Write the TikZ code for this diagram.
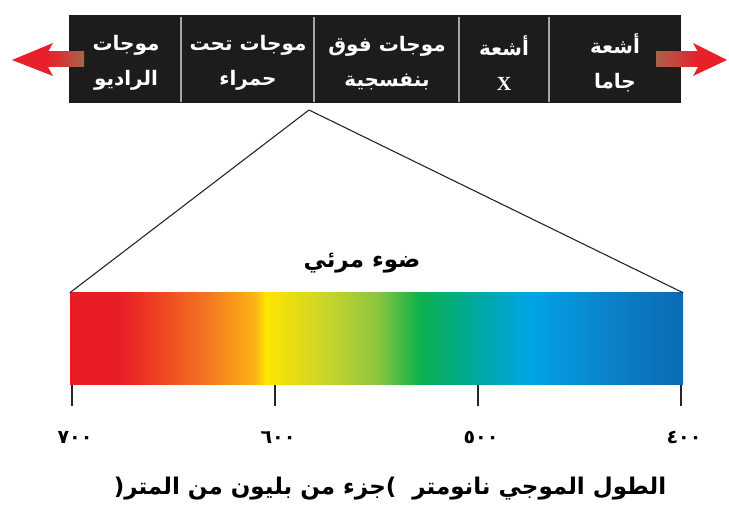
\documentclass[tikz,border=0pt]{standalone}
\usepackage{fontspec}
\usetikzlibrary{positioning}
\newfontfamily\arabicfont[Script=Arabic]{DejaVu Sans}
\newfontfamily\latinserif{Liberation Serif}
\TeXXeTstate=1
\definecolor{bandblack}{HTML}{1E1C1B}
\definecolor{arrowred}{HTML}{E8202A}
\definecolor{arrowbrown}{HTML}{A86448}
\definecolor{specred}{HTML}{E91D26}
\definecolor{specredorange}{HTML}{EE3A24}
\definecolor{specorange}{HTML}{F37421}
\definecolor{specamber}{HTML}{FBB116}
\definecolor{specyellow}{HTML}{FFE500}
\definecolor{speclime}{HTML}{C8D42C}
\definecolor{specgreenlight}{HTML}{8DC63F}
\definecolor{specgreen}{HTML}{0DB14B}
\definecolor{specteal}{HTML}{00A99D}
\definecolor{speccyan}{HTML}{00A5E6}
\definecolor{specblue}{HTML}{0A84CB}
\definecolor{specdeep}{HTML}{0B6AB4}
\pgfdeclarehorizontalshading{visible}{100bp}{
  color(0bp)=(specred); color(25bp)=(specred); color(29bp)=(specred);
  color(31.5bp)=(specredorange); color(36bp)=(specorange);
  color(40bp)=(specamber); color(41bp)=(specyellow);
  color(46bp)=(speclime); color(50bp)=(specgreenlight);
  color(53.5bp)=(specgreen); color(58bp)=(specteal);
  color(62.5bp)=(speccyan); color(68.5bp)=(specblue);
  color(75bp)=(specdeep); color(100bp)=(specdeep)}

\begin{document}
\begin{tikzpicture}[
    x=1pt, y=-1pt,
    band/.style={fill=bandblack, draw=none, minimum width=612pt, minimum height=88pt, inner sep=0pt},
    bandlabel/.style={text=white, align=center, inner sep=0pt,
      font=\arabicfont\bfseries\fontsize{20}{35}\selectfont},
    divider/.style={draw=black!35, line width=1.3pt},
    arrowhead/.style={fill=arrowred, draw=none},
    spectrum/.style={shading=visible, minimum width=613pt, minimum height=92pt, inner sep=0pt},
    zoomline/.style={draw=black!85, line width=1.1pt},
    tick/.style={draw=black!85, line width=1.2pt},
    numlabel/.style={font=\arabicfont\bfseries\fontsize{19}{22}\selectfont, inner sep=0pt},
    title/.style={font=\arabicfont\bfseries\fontsize{23}{26}\selectfont, inner sep=0pt}
  ]
    \useasboundingbox (0,0) rectangle (729,518);

    % Electromagnetic band
    \node[band] (band) at (375,59) {};
    \foreach \x in {181,314,459,549}
      \draw[divider] (\x,17) -- (\x,102);

    \node[bandlabel] (gamma) at (615,63) {\beginR أشعة\endR\\\beginR جاما\endR};
    \node[bandlabel] (xray) at (504,63) {\beginR أشعة\endR\\{\latinserif X}};
    \node[bandlabel] (uv) at (387,63) {\beginR موجات فوق\endR\\\beginR بنفسجية\endR};
    \node[bandlabel] (ir) at (248,63) {\beginR موجات تحت\endR\\\beginR حمراء\endR};
    \node[bandlabel] (radio) at (126,63) {\beginR موجات\endR\\\beginR الراديو\endR};

    % Arrows
    \shade[left color=arrowred, right color=arrowbrown] (48,52) rectangle (84,67);
    \fill[arrowhead] (12,60) -- (53,43) -- (48,52) -- (48,67) -- (53,76) -- cycle;
    \shade[left color=arrowbrown, right color=arrowred] (656,52) rectangle (698,67);
    \fill[arrowhead] (727,60) -- (693,43) -- (698,52) -- (698,67) -- (693,76) -- cycle;

    % Visible light
    \coordinate (apex) at (309,110);
    \node[spectrum] (spec) at (376.5,339) {};
    \draw[zoomline] (apex) -- (spec.north west);
    \draw[zoomline] (apex) -- (spec.north east);
    \node[title] (visible) at (362,263) {\beginR ضوء مرئي\endR};

    % Scale
    \foreach \x/\num [count=\i] in {72/٧٠٠, 275/٦٠٠, 478/٥٠٠, 681/٤٠٠} {
      \draw[tick] (\x,385) -- (\x,406);
      \node[numlabel] (n\i) at (\x+3,437) {\num};
    }
    \node[title] (caption) at (390,489) {(\beginR جزء من بليون من المتر\endR)\ \ \beginR الطول الموجي نانومتر\endR};
  \end{tikzpicture}
\end{document}
